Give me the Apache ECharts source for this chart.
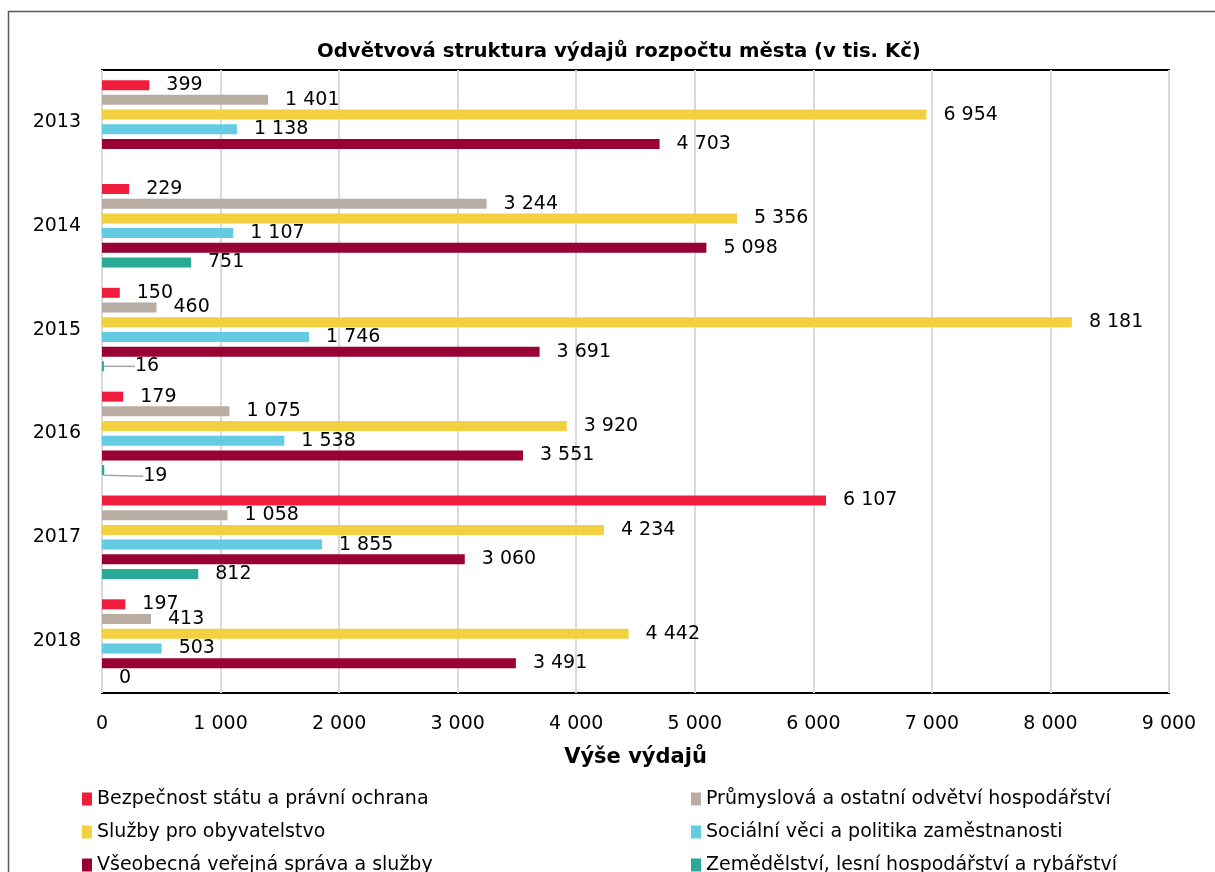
<!DOCTYPE html>
<html>
<head>
<meta charset="utf-8">
<script src="https://cdn.jsdelivr.net/npm/echarts@6/dist/echarts.min.js"></script>
<style>
html,body{margin:0;padding:0;background:#fff;}
#chart{width:1215px;height:872px;}
</style>
</head>
<body>
<div id="chart"></div>
<script>
const categories = ['2013', '2014', '2015', '2016', '2017', '2018'];
const seriesNames = [
  'Bezpečnost státu a právní ochrana',
  'Průmyslová a ostatní odvětví hospodářství',
  'Služby pro obyvatelstvo',
  'Sociální věci a politika zaměstnanosti',
  'Všeobecná veřejná správa a služby',
  'Zemědělství, lesní hospodářství a rybářství'
];
const bezpecnost = [399, 229, 150, 179, 6107, 197];
const prumyslova = [1401, 3244, 460, 1075, 1058, 413];
const sluzby = [6954, 5356, 8181, 3920, 4234, 4442];
const socialni = [1138, 1107, 1746, 1538, 1855, 503];
const vseobecna = [4703, 5098, 3691, 3551, 3060, 3491];
const zemedelstvi = [null, 751, 16, 19, 812, 0];
const xTicks = [0, 1000, 2000, 3000, 4000, 5000, 6000, 7000, 8000, 9000];

const colors = ['#EF1D3E', '#B8ACA3', '#F3D03F', '#63CBE2', '#990033', '#2AA996'];
const allData = [bezpecnost, prumyslova, sluzby, socialni, vseobecna, zemedelstvi];
const FONT = 'DejaVu Sans';

// labels moved away from their bar (with leader line) in the original
const movedLabels = { 2: { dx: 14, dy: 0 }, 3: { dx: 22, dy: 6 } };

function fmt(v) {
  return String(v).replace(/\B(?=(\d{3})+(?!\d))/g, ' ');
}

const series = allData.map(function (arr, i) {
  const s = {
    name: seriesNames[i],
    type: 'bar',
    data: arr,
    barWidth: 10,
    barGap: '47%',
    itemStyle: { color: colors[i] },
    label: {
      show: true,
      position: 'right',
      distance: 17,
      formatter: function (p) { return fmt(p.value); },
      color: '#000',
      fontFamily: FONT,
      fontSize: 19
    }
  };
  if (i === 5) {
    s.data = arr.map(function (v, k) {
      return { value: v, labelLine: { show: !!movedLabels[k] } };
    });
    s.labelLayout = function (p) {
      const m = movedLabels[p.dataIndex];
      return m ? { dx: m.dx, dy: m.dy } : {};
    };
    s.labelLine = { show: false, lineStyle: { color: '#a6a6a6', width: 1.5 } };
  }
  return s;
});

const legendPos = [
  { left: 77, top: 784 }, { left: 686, top: 784 },
  { left: 77, top: 817 }, { left: 686, top: 817 },
  { left: 77, top: 850 }, { left: 686, top: 850 }
];
const legends = seriesNames.map(function (n, i) {
  return {
    left: legendPos[i].left,
    top: legendPos[i].top,
    itemWidth: 10,
    itemHeight: 13,
    icon: 'rect',
    data: [n],
    textStyle: { fontFamily: FONT, fontSize: 19, color: '#000', lineHeight: 20 }
  };
});

const chart = echarts.init(document.getElementById('chart'));
chart.setOption({
  animation: false,
  backgroundColor: '#fff',
  title: {
    text: 'Odvětvová struktura výdajů rozpočtu města (v tis. Kč)',
    left: 312,
    top: 37,
    textStyle: { fontFamily: FONT, fontSize: 19.7, fontWeight: 'bold', color: '#000' }
  },
  graphic: [{
    type: 'rect',
    shape: { x: 8.5, y: 11.5, width: 1240, height: 900 },
    style: { fill: 'none', stroke: '#595959', lineWidth: 1.5 },
    silent: true
  }],
  legend: legends,
  grid: {
    left: 102, right: 46, top: 70, bottom: 179,
    show: true, borderColor: '#000', borderWidth: 2, backgroundColor: 'transparent'
  },
  xAxis: {
    type: 'value',
    min: xTicks[0],
    max: xTicks[xTicks.length - 1],
    interval: 1000,
    name: 'Výše výdajů',
    nameLocation: 'middle',
    nameGap: 54,
    nameTextStyle: { fontFamily: FONT, fontSize: 21, fontWeight: 'bold', color: '#000' },
    axisLine: { show: false },
    axisTick: { show: false },
    splitLine: { show: true, lineStyle: { color: '#d9d9d9', width: 2 } },
    axisLabel: {
      margin: 22,
      fontFamily: FONT, fontSize: 19, color: '#000',
      formatter: function (v) { return fmt(v); }
    }
  },
  yAxis: {
    type: 'category',
    inverse: true,
    data: categories,
    axisLine: { show: false },
    axisTick: { show: false },
    axisLabel: { margin: 21, fontFamily: FONT, fontSize: 19, color: '#000' }
  },
  series: series
});
</script>
</body>
</html>
